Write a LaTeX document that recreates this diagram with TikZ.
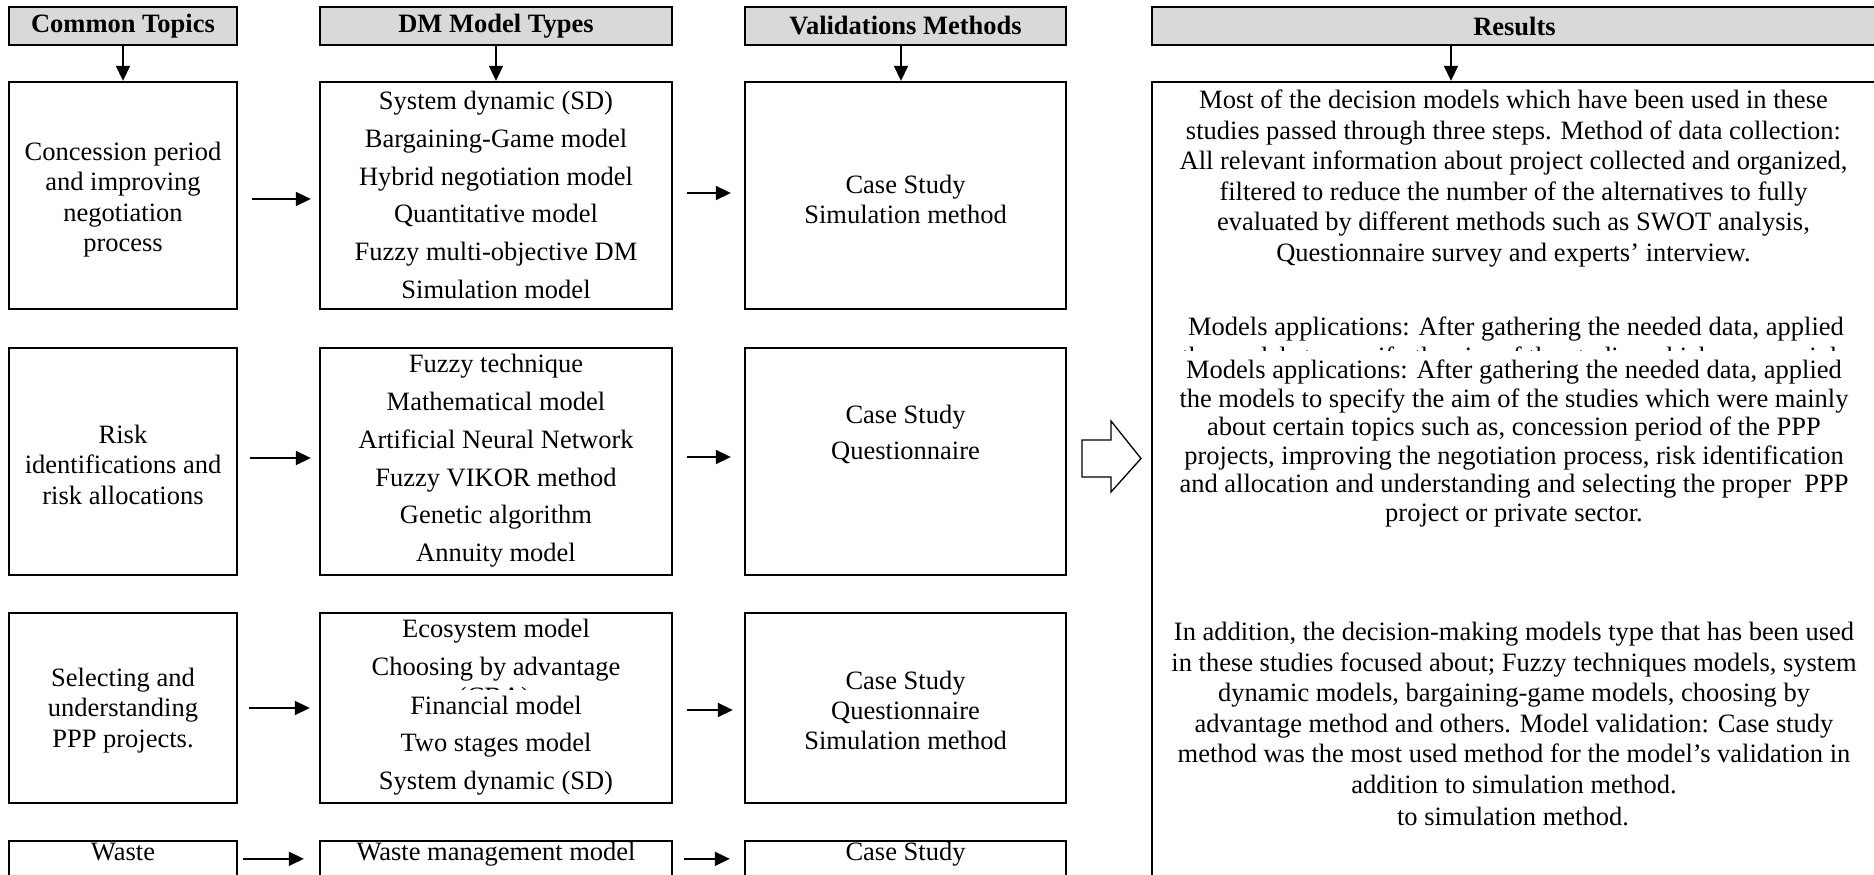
\documentclass[tikz,border=0pt]{standalone}
\usepackage{fontspec}
\setmainfont{Liberation Serif}
\usetikzlibrary{arrows.meta,fit}

\tikzset{
  box/.style={draw, line width=1.04pt, inner sep=0pt, fill=white},
  hdr/.style={draw, line width=1.04pt, inner sep=0pt, fill=black!15},
  arr/.style={line width=0.9pt, -{Triangle[length=6.8pt,width=6.3pt]}},
  txt/.style={align=center, inner sep=0pt, font=\fontsize{12}{13.8}\selectfont},
  dmtxt/.style={align=center, inner sep=0pt, font=\fontsize{12}{17.1}\selectfont},
  htxt/.style={inner sep=0pt, font=\fontsize{12}{13.8}\selectfont\bfseries},
  cover/.style={fill=white, inner sep=0pt},
}

\begin{document}
\begin{tikzpicture}[x=0.4528pt, y=-0.4528pt]
\useasboundingbox (0,0) rectangle (1874,875);
\fill[white] (0,0) rectangle (1874,875);
\clip (0,0) rectangle (1874,875);

% column headers
\node[hdr, fit={(9,7) (237,45)}]    (h1) {};
\node[hdr, fit={(320,7) (672,45)}]  (h2) {};
\node[hdr, fit={(745,7) (1066,45)}] (h3) {};
\node[hdr, fit={(1152,7) (1877,45)}] (h4) {};
\node[htxt] (ht1) at (h1.center) {Common Topics};
\node[htxt] (ht2) at (h2.center) {DM Model Types};
\node[htxt] (ht3) at (h3.center) {Validations Methods};
\node[htxt] (ht4) at (1514.5,26) {Results};

% row 1
\node[box, fit={(9,82) (237,309)}]    (c1) {};
\node[box, fit={(320,82) (672,309)}]  (d1) {};
\node[box, fit={(745,82) (1066,309)}] (v1) {};
% row 2
\node[box, fit={(9,348) (237,575)}]    (c2) {};
\node[box, fit={(320,348) (672,575)}]  (d2) {};
\node[box, fit={(745,348) (1066,575)}] (v2) {};
% row 3
\node[box, fit={(9,613) (237,803)}]    (c3) {};
\node[box, fit={(320,613) (672,803)}]  (d3) {};
\node[box, fit={(745,613) (1066,803)}] (v3) {};
% row 4 (runs past the lower edge)
\node[box, fit={(9,841) (237,910)}]    (c4) {};
\node[box, fit={(320,841) (672,910)}]  (d4) {};
\node[box, fit={(745,841) (1066,910)}] (v4) {};
% results
\node[box, fit={(1152,82) (1877,910)}] (r) {};

% header arrows
\coordinate (ax4) at (1451,0);
\draw[arr] (h1.south) -- (c1.north);
\draw[arr] (h2.south) -- (d1.north);
\draw[arr] ([shift={(-4.5,0)}]h3.south) -- ([shift={(-4.5,0)}]v1.north);
\draw[arr] (h4.south -| ax4) -- (r.north -| ax4);

% row arrows
\draw[arr] ([shift={(14,3.5)}]c1.east) -- ([shift={(-8,3.5)}]d1.west);
\draw[arr] ([shift={(14,-2.5)}]d1.east) -- ([shift={(-13,-2.5)}]v1.west);
\draw[arr] ([shift={(12,-3.5)}]c2.east) -- ([shift={(-8,-3.5)}]d2.west);
\draw[arr] ([shift={(14,-4.5)}]d2.east) -- ([shift={(-13,-4.5)}]v2.west);
\draw[arr] ([shift={(11,0)}]c3.east) -- ([shift={(-9,0)}]d3.west);
\draw[arr] ([shift={(14,2)}]d3.east) -- ([shift={(-11,2)}]v3.west);
\draw[arr] ([shift={(5,19)}]c4.north east) -- ([shift={(-15,19)}]d4.north west);
\draw[arr] ([shift={(11,19)}]d4.north east) -- ([shift={(-14,19)}]v4.north west);

% hollow arrow towards the results
\draw[line width=0.6pt, fill=white] (1082,440) -- (1111,440) -- (1111,421) -- (1141,458.5)
  -- (1111,492) -- (1111,477) -- (1082,477) -- cycle;

% row 1 texts
\node[txt] (tc1) at (123,199.5) {Concession period\\and improving\\negotiation\\process};
\node[dmtxt] (td1) at (496,195) {System dynamic (SD)\\Bargaining-Game model\\Hybrid negotiation model\\Quantitative model\\Fuzzy multi-objective DM\\Simulation model};
\node[txt, font=\fontsize{12}{13.4}\selectfont] (tv1) at (905.5,199.5) {Case Study\\Simulation method};

% row 2 texts
\node[txt] (tc2) at (123,464.5) {Risk\\identifications and\\risk allocations};
\node[dmtxt] (td2) at (496,461) {Fuzzy technique\\Mathematical model\\Artificial Neural Network\\Fuzzy VIKOR method\\Genetic algorithm\\Annuity model};
\node[txt, font=\fontsize{12}{15.9}\selectfont] (tv2) at (905.5,434.5) {Case Study\\Questionnaire};

% row 3 texts
\node[txt] (tc3) at (123,710.5) {Selecting and\\understanding\\PPP projects.};
\node[dmtxt] (td3a) at (496,650.5) {Ecosystem model\\Choosing by advantage};
\node[txt, anchor=base] (td3b) at (494,705.5) {(CBA)};
\node[cover, fit={(420,690) (572,725)}] (cv1) {};
\node[dmtxt] (td3c) at (496,745.5) {Financial model\\Two stages model\\System dynamic (SD)};
\node[txt, font=\fontsize{12}{13.6}\selectfont] (tv3) at (905.5,710) {Case Study\\Questionnaire\\Simulation method};

% row 4 texts
\node[txt, anchor=base] (tc4) at (123,861) {Waste};
\node[txt, anchor=base] (td4) at (496,861) {Waste management model};
\node[txt, anchor=base] (tv4) at (905.5,861) {Case Study};

% results texts
\node[txt, font=\fontsize{12}{13.85}\selectfont] (p1) at (1513.5,178.5)
  {Most of the decision models which have been used in these\\
   studies passed through three steps. Method of data collection:\\
   All relevant information about project collected and organized,\\
   filtered to reduce the number of the alternatives to fully\\
   evaluated by different methods such as SWOT analysis,\\
   Questionnaire survey and experts’ interview.};
\node[txt, font=\fontsize{12}{13.8}\selectfont] (p2a) at (1516,344)
  {Models applications: After gathering the needed data, applied\\
   the models to specify the aim of the studies which were mainly};
\node[cover, fit={(1165,351) (1862,530)}] (cv2) {};
\node[txt, font=\fontsize{12}{12.95}\selectfont] (p2b) at (1514,443.5)
  {Models applications: After gathering the needed data, applied\\
   the models to specify the aim of the studies which were mainly\\
   about certain topics such as, concession period of the PPP\\
   projects, improving the negotiation process, risk identification\\
   and allocation and understanding and selecting the proper\ \ PPP\\
   project or private sector.};
\node[txt, font=\fontsize{12}{13.77}\selectfont] (p3) at (1514,708)
  {In addition, the decision-making models type that has been used\\
   in these studies focused about; Fuzzy techniques models, system\\
   dynamic models, bargaining-game models, choosing by\\
   advantage method and others. Model validation: Case study\\
   method was the most used method for the model’s validation in\\
   addition to simulation method.};
\node[txt, anchor=base] (p4) at (1513,826) {to simulation method.};
\end{tikzpicture}
\end{document}
